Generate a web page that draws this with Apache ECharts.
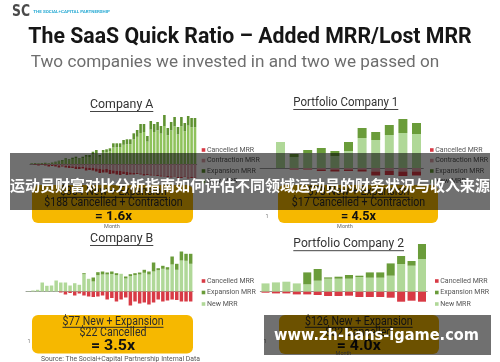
<!DOCTYPE html>
<html><head><meta charset="utf-8">
<script src="https://cdn.jsdelivr.net/npm/echarts@6/dist/echarts.min.js"></script>
<style>html,body{margin:0;padding:0;background:#fff}#c{width:500px;height:362px}</style>
</head><body><div id="c"></div>
<script>
// ---------- DATA (units roughly $K of MRR) ----------
function monthLabels(n){ const a=[]; for(let i=1;i<=n;i++) a.push(String(i)); return a; }

// Company A (49 months)
const monthsA = monthLabels(49);
const newA = [0.6,0.8,0.5,0.8,1.0,0.6,1.2,1.8,2.6,3.2,4.5,3.8,5.0,5.8,4.6,5.8,7.2,7.0,9.8,11.0,7.2,11.2,11.7,12.5,16.5,16.6,16.5,19.2,19.7,19.8,24.5,27.2,31.0,32.0,22.4,34.4,32.0,33.6,30.4,38.0,28.8,33.6,37.6,29.6,37.6,32.8,38.4,36.8,36.8];
const expA = [0.2,0.2,0.2,0.2,0.2,0.2,0.3,0.5,0.7,0.8,1.2,0.9,1.3,1.5,1.1,1.5,1.8,2.0,2.5,3.0,1.8,2.8,3.0,3.2,4.2,4.1,4.2,4.8,5.0,4.9,6.2,6.8,9.0,8.0,5.6,8.6,8.0,8.4,7.6,11.0,7.2,8.4,9.4,7.4,9.4,8.2,9.6,9.2,9.2];
const conA = [-0.5,-0.5,-0.5,-0.5,-0.5,-1,-1,-1,-1.5,-1.5,-2,-2,-2.5,-2.5,-3,-3,-3.5,-4,-4,-4.5,-5,-5.5,-5,-6,-6.5,-7,-7,-7.5,-8,-8.5,-9,-9,-9.5,-10,-10,-10.5,-11,-11,-11.5,-12,-12,-12.5,-12,-13,-13,-12.5,-13.5,-13,-13.5];
const canA = [0,-0.5,-1,-0.5,-1,-1.5,-1,-1.5,-2,-1,-1.5,-2,-1.5,-2.5,-2,-1.5,-3,-2,-2.5,-3,-4,-3,-3.5,-4,-3,-3.5,-4,-2.5,-3,-2,-1.5,-1,-1,-1.5,-1,-1,-0.5,-1,-1,-0.5,-1,-1,-0.5,-1,-1,-0.5,-1,-1,-0.5];

// Portfolio Company 1 (12 months)
const monthsP1 = monthLabels(12);
const newP1 = [0,26,11,15,15,12,17,30,28,33,35,34];
const expP1 = [0,0,3,3,5,5,9,10,8,10,14,11];
const conP1 = [0,0,-1,-1,-1.5,-1.5,-1.5,-1.5,-3.5,-3,-3.5,-3.5];
const canP1 = [0,0,-0.5,-0.5,-1.5,-2,-1.5,-2,-4,-4,-4.5,-4];

// Company B (36 months)
const monthsB = monthLabels(36);
const newB = [0.3,1,1.7,9,5.7,6,11,9,9,6,8.3,6.7,17.3,12.7,10,16.3,17,17,17.5,16.3,17.7,13,15.3,16.3,17,18.7,17,20,21.3,22.7,21.8,27,21.7,31,30.7,27.7];
const expB = [0,0,0,0,0,0,0,0,0,0,0,0,1,0,4,3,3,2,2.5,2,0,2,2,2,2,3,3,9,2,3,2.5,8,6,9,7,10];
const canB = [0,0,0,0,0,0,0,-1,-3,-1.5,-4,-2,-4,-5,-5.5,-5,-4,-8,-6.5,-10,-8,-6,-14,-10,-12,-11,-13,-11,-8,-10,-9,-8,-8.5,-10,-10,-10];

// Portfolio Company 2 (16 months)
const monthsP2 = monthLabels(16);
const newP2 = [8.3,9.3,10,8.3,7.3,11,13,13,13,14.7,14,14,16,27.7,26,32.7];
const expP2 = [0,0,0,0,12,11.7,1.3,2,3.7,1.3,5.3,5.3,12.3,8,4.7,15];
const canP2 = [-1,-1.7,-1.7,-2.7,-2.7,-3.3,-4.3,-4.3,-4,-5.3,-5.3,-5.3,-6,-10,-9,-10];

const legend4 = ['Cancelled MRR','Contraction MRR','Expansion MRR','New MRR'];
const legend3 = ['Cancelled MRR','Expansion MRR','New MRR'];

// ---------- STYLE ----------
const C = {
  can:'#d83a45', con:'#dea3a8', exp:'#6a9c3a', nw:'#b0d898',
  expA:'#5f9231', nwA:'#8fc25c'
};

const ctx = document.createElement('canvas').getContext('2d');
function tw(text, font){ ctx.font = font; return ctx.measureText(text).width; }
function txt(text, x, y, o){
  const font = (o.weight||'normal') + ' ' + o.size + 'px ' + (o.family||'Roboto');
  const sx = o.w ? o.w / tw(text, font) : 1;
  const al = o.align||'left';
  return {type:'text', x:x, y:y, scaleX:sx, z:o.z||20, silent:true,
    style:{text:text, font:font, fill:o.color||'#333', align:al, textAlign:al,
           verticalAlign:'middle', textVerticalAlign:'middle'}};
}
function uline(x1,x2,y,color,z){
  return {type:'line', z:z||20, silent:true, shape:{x1:x1,y1:y,x2:x2,y2:y}, style:{stroke:color||'#333', lineWidth:1}};
}
function rrect(x,y,w,h,r,fill,z){
  return {type:'rect', z:z||10, silent:true, shape:{x:x,y:y,width:w,height:h,r:r}, style:{fill:fill}};
}
function legendBlock(x, ys, names, colors){
  const els=[];
  names.forEach((n,i)=>{
    els.push({type:'rect', z:20, silent:true, shape:{x:x, y:ys[i]-1.8, width:3.6, height:3.6}, style:{fill:colors[i]}});
    els.push(txt(n, x+5.3, ys[i], {size:7, color:'#555'}));
  });
  return els;
}

// ---------- CHART ----------
const grids = [
  {left:30,    top:110,   width:166.7, height:70},
  {left:260.1, top:110,   width:163.2, height:70},
  {left:26,    top:245.5, width:167,   height:62},
  {left:260.3, top:239.7, width:166.9, height:64}
];
const yr = [[-16,54],[-12,58],[-16,46],[-12,52]];
const cats = [monthsA, monthsP1, monthsB, monthsP2];
const gaps = ['24%','34%','25%','23%'];

const xAxis = cats.map((d,i)=>({type:'category', gridIndex:i, data:d, boundaryGap:true,
  axisLine:{show:true, onZero:true, lineStyle:{color:'#9a9a9a', width:1}},
  axisTick:{show:false}, axisLabel:{show:false}, splitLine:{show:false}}));
const yAxis = yr.map((r,i)=>({type:'value', gridIndex:i, min:r[0], max:r[1], show:false,
  splitLine:{show:false}}));

function bar(name, data, i, color){
  return {type:'bar', name:name, data:data, xAxisIndex:i, yAxisIndex:i, stack:'s'+i,
    barCategoryGap:gaps[i], itemStyle:{color:color}, silent:true};
}
const series = [
  bar('New MRR', newA, 0, C.nwA), bar('Expansion MRR', expA, 0, C.expA),
  bar('Contraction MRR', conA, 0, C.con), bar('Cancelled MRR', canA, 0, C.can),
  bar('New MRR', newP1, 1, C.nw), bar('Expansion MRR', expP1, 1, C.exp),
  bar('Contraction MRR', conP1, 1, C.con), bar('Cancelled MRR', canP1, 1, C.can),
  bar('New MRR', newB, 2, C.nw), bar('Expansion MRR', expB, 2, C.exp),
  bar('Cancelled MRR', canB, 2, C.can),
  bar('New MRR', newP2, 3, C.nw), bar('Expansion MRR', expP2, 3, C.exp),
  bar('Cancelled MRR', canP2, 3, C.can)
];

const Y = '#f6b800';
const els = [];
// logo + headings
els.push(txt('SC', 12, 11.5, {size:16, weight:'bold', family:'DejaVu Sans', color:'#4a4a4a', w:18}));
els.push(txt('THE SOCIAL+CAPITAL PARTNERSHIP', 33.3, 11.7, {size:4, weight:'bold', color:'#29abd4', w:76.7}));
els.push(txt('The SaaS Quick Ratio \u2013 Added MRR/Lost MRR', 28.3, 37.4, {size:22, weight:'bold', color:'#161616', w:443.4}));
els.push(txt('Two companies we invested in and two we passed on', 30.7, 63.2, {size:16.5, color:'#6e6e6e', w:408.6}));
// chart titles
els.push(txt('Company A', 121.7, 105, {size:12, color:'#333', w:63.3, align:'center'}));
els.push(uline(90, 153.3, 111.5, '#444'));
els.push(txt('Portfolio Company 1', 345.8, 102.8, {size:12, color:'#333', w:105, align:'center'}));
els.push(uline(293.3, 398.3, 109.5, '#444'));
els.push(txt('Company B', 121.7, 239.2, {size:12, color:'#333', w:63.3, align:'center'}));
els.push(uline(90, 153.3, 245.5, '#444'));
els.push(txt('Portfolio Company 2', 348.7, 244.2, {size:12, color:'#333', w:110.7, align:'center'}));
els.push(uline(293.3, 404, 250.7, '#444'));
// legends
const ys4 = [150,160.6,171,181.4], ys3 = [281,292.5,304];
legendBlock(201.7, ys4, legend4, [C.can, C.con, C.expA, C.nwA]).forEach(e=>els.push(e));
legendBlock(430, ys4, legend4, [C.can, C.con, C.exp, C.nw]).forEach(e=>els.push(e));
legendBlock(201.7, ys3, legend3, [C.can, C.exp, C.nw]).forEach(e=>els.push(e));
legendBlock(435, ys3, legend3, [C.can, C.exp, C.nw]).forEach(e=>els.push(e));
// small axis remnants
els.push(txt('Month', 112, 226.5, {size:5.5, color:'#666', align:'center'}));
els.push(txt('Month', 345, 226.5, {size:5.5, color:'#666', align:'center'}));
els.push(txt('Month', 343.5, 353.8, {size:5.5, color:'#666', align:'center'}));
els.push(txt('1', 267, 216.5, {size:5.5, color:'#777', align:'center'}));
els.push(txt('1', 29, 342, {size:5.5, color:'#777', align:'center'}));
els.push(txt('1', 265, 342, {size:5.5, color:'#777', align:'center'}));
// yellow boxes
function box(x, y, w, h, l1, l2, l3, c, w1, w2, w3, s3){
  els.push(rrect(x, y, w, h, 6, Y, 10));
  els.push(txt(l1, c, y+7.3, {size:12, color:'#2b2b2b', w:w1, align:'center'}));
  els.push(uline(c-w1/2, c+w1/2, y+12.3, '#2b2b2b'));
  els.push(txt(l2, c, y+18, {size:12, color:'#2b2b2b', w:w2, align:'center'}));
  els.push(txt(l3, c, y+31.3, {size:s3, weight:'bold', color:'#111', w:w3, align:'center'}));
}
box(32, 185, 161, 38, '$304 New + Expansion', '$188 Cancelled + Contraction', '= 1.6x', 113.5, 106.7, 138.3, 37, 13);
box(278, 185, 160, 38, '$78 New + Expansion', '$17 Cancelled + Contraction', '= 4.5x', 358.5, 101.5, 133.3, 35, 13);
box(32, 315, 161, 38.5, '$77 New + Expansion', '$22 Cancelled', '= 3.5x', 113, 101, 67, 44, 14);
box(279, 315, 160, 39, '$126 New + Expansion', '$32 Cancelled', '= 4.0x', 358.8, 107.7, 67, 44, 14);
// source
els.push(txt('Source: The Social+Capital Partnership Internal Data', 41, 359.5, {size:6.5, color:'#555', w:159}));
// overlays
els.push(rrect(10, 153, 480, 57, 0, 'rgba(0,0,0,0.56)', 50));
els.push(txt('运动员财富对比分析指南如何评估不同领域运动员的财务状况与收入来源', 250, 185, {size:15, weight:'bold', family:'"Noto Sans CJK SC"', color:'#ffffff', w:480, align:'center', z:51}));
els.push(rrect(264, 315, 227, 40, 0, 'rgba(0,0,0,0.56)', 50));
els.push(txt('www.zh-hans-igame.com', 376.5, 336, {size:15, weight:'bold', family:'"DejaVu Sans"', color:'#ffffff', w:205, align:'center', z:51}));

const chart = echarts.init(document.getElementById('c'), null, {renderer:'canvas'});
chart.setOption({
  animation:false,
  backgroundColor:'#ffffff',
  grid: grids,
  xAxis: xAxis,
  yAxis: yAxis,
  series: series,
  graphic: {elements: els}
});
</script></body></html>
